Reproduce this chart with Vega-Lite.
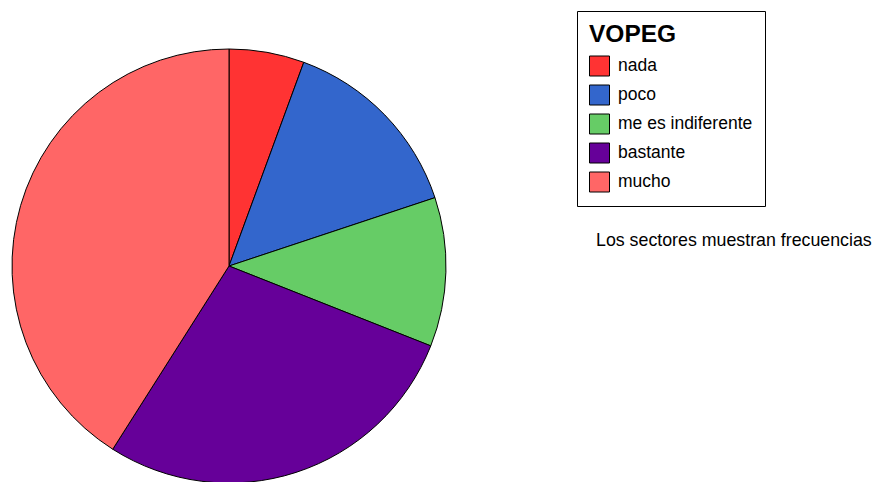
{
  "$schema": "https://vega.github.io/schema/vega-lite/v6.json",
  "width": 458,
  "height": 532,
  "padding": {"left": 0, "top": 0, "right": 416, "bottom": 0},
  "autosize": "none",
  "background": "white",
  "title": {
    "text": "Los sectores muestran frecuencias",
    "orient": "top",
    "anchor": "start",
    "frame": "group",
    "dx": 596,
    "dy": 263,
    "fontSize": 17.8,
    "fontWeight": "normal",
    "font": "Liberation Sans",
    "color": "black",
    "baseline": "middle"
  },
  "data": {
    "values": [
      {"VOPEG": "nada", "frecuencia": 5.6, "orden": 1},
      {"VOPEG": "poco", "frecuencia": 14.3, "orden": 2},
      {"VOPEG": "me es indiferente", "frecuencia": 11.1, "orden": 3},
      {"VOPEG": "bastante", "frecuencia": 28.0, "orden": 4},
      {"VOPEG": "mucho", "frecuencia": 41.0, "orden": 5}
    ]
  },
  "mark": {"type": "arc", "outerRadius": 217, "stroke": "black", "strokeWidth": 1},
  "encoding": {
    "theta": {"field": "frecuencia", "type": "quantitative", "stack": true},
    "order": {"field": "orden", "type": "quantitative"},
    "color": {
      "field": "VOPEG",
      "type": "nominal",
      "scale": {
        "domain": ["nada", "poco", "me es indiferente", "bastante", "mucho"],
        "range": ["#FF3333", "#3366CC", "#66CC66", "#660099", "#FF6666"]
      },
      "legend": {
        "orient": "none",
        "legendX": 577,
        "legendY": 11,
        "title": "VOPEG",
        "titleFontSize": 24.5,
        "titleFontWeight": "bold",
        "titleFont": "Liberation Sans",
        "titleColor": "black",
        "titlePadding": 8,
        "labelFont": "Liberation Sans",
        "labelFontSize": 17.5,
        "labelColor": "black",
        "labelOffset": 8,
        "labelExpr": "datum.label + '\u00a0\u00a0\u00a0\u00a0\u00a0\u00a0\u00a0'",
        "symbolType": "square",
        "symbolSize": 400,
        "symbolStrokeColor": "black",
        "symbolStrokeWidth": 1,
        "rowPadding": 4,
        "padding": 12,
        "strokeColor": "black",
        "fillColor": "white",
        "labelLimit": 300
      }
    }
  },
  "config": {"view": {"stroke": null}}
}
